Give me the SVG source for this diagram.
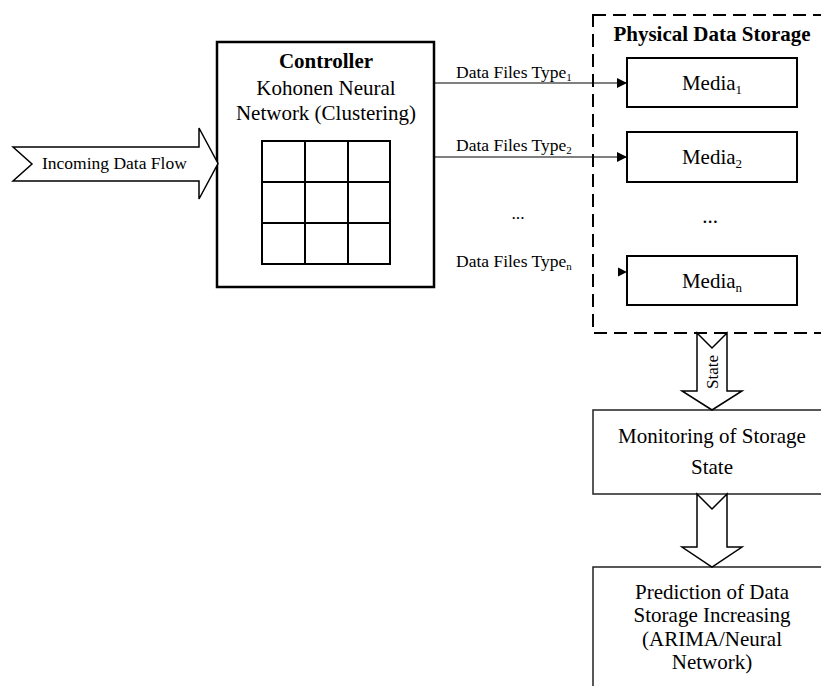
<svg xmlns="http://www.w3.org/2000/svg" width="821" height="686" viewBox="0 0 821 686">
  <style>
    text { font-family: "Liberation Serif", "Times New Roman", serif; fill: #000; }
    .t21 { font-size: 21px; }
    .t17 { font-size: 17.5px; }
    .b { font-weight: bold; }
    .mid { text-anchor: middle; }
    .box { fill: #fff; stroke: #000; stroke-width: 2; }
    .thin { fill: #fff; stroke: #222; stroke-width: 1.5; }
    .fat { fill: #fff; stroke: #000; stroke-width: 1.5; stroke-linejoin: miter; }
    .grid { fill: none; stroke: #000; stroke-width: 2; }
    .link { stroke: #000; stroke-width: 1; fill: none; }
  </style>
  <defs>
    <marker id="tri" viewBox="0 0 10 10" refX="10" refY="5" markerWidth="10" markerHeight="10" markerUnits="userSpaceOnUse" orient="auto">
      <path d="M0,0 L10,5 L0,10 Z" fill="#000"/>
    </marker>
  </defs>

  <rect width="821" height="686" fill="#fff"/>

  <!-- storage container (dashed), runs off the right edge -->
  <g id="storage">
    <rect x="593" y="15" width="238" height="318" fill="none" stroke="#000" stroke-width="2" stroke-dasharray="13 7"/>
    <text class="t21 b mid" x="712" y="41">Physical Data Storage</text>
  </g>

  <g id="media1">
    <rect class="box" x="627" y="58" width="170" height="49"/>
    <text class="t21 mid" x="712" y="90">Media<tspan font-size="13" dy="4">1</tspan></text>
  </g>
  <g id="media2">
    <rect class="box" x="627" y="132" width="170" height="50"/>
    <text class="t21 mid" x="712" y="164">Media<tspan font-size="13" dy="4">2</tspan></text>
  </g>
  <text class="t21 mid" x="710" y="223">...</text>
  <g id="median">
    <rect class="box" x="627" y="256" width="170" height="49"/>
    <text class="t21 mid" x="712" y="288">Media<tspan font-size="13" dy="4">n</tspan></text>
  </g>

  <!-- controller with Kohonen map -->
  <g id="controller">
    <rect x="217" y="42" width="217" height="245" fill="#fff" stroke="#000" stroke-width="2.5"/>
    <text class="t21 b mid" x="326" y="68">Controller</text>
    <text class="t21 mid" x="326" y="95">Kohonen Neural</text>
    <text class="t21 mid" x="326" y="120">Network (Clustering)</text>
    <rect class="grid" x="262" y="141" width="128" height="123"/>
    <path class="grid" d="M305,141 V264 M348,141 V264 M262,182 H390 M262,223 H390"/>
  </g>

  <g id="monitoring">
    <rect class="thin" x="593" y="410" width="238" height="84"/>
    <text class="t21 mid" x="712" y="443">Monitoring of Storage</text>
    <text class="t21 mid" x="712" y="474">State</text>
  </g>

  <g id="prediction">
    <rect class="thin" x="593" y="567" width="238" height="130"/>
    <text class="t21 mid" x="712" y="599">Prediction of Data</text>
    <text class="t21 mid" x="712" y="622">Storage Increasing</text>
    <text class="t21 mid" x="712" y="646">(ARIMA/Neural</text>
    <text class="t21 mid" x="712" y="669">Network)</text>
  </g>

  <g id="connectors">
    <!-- incoming flow -->
    <polygon class="fat" points="13,147 199,147 199,128 218,163.5 199,199 199,181 13,181 32,164"/>
    <text class="t17" x="42" y="169">Incoming Data Flow</text>

    <!-- data file routes -->
    <line class="link" x1="434" y1="83" x2="627" y2="83" marker-end="url(#tri)"/>
    <text class="t17" x="456" y="78">Data Files Type<tspan font-size="11" dy="3">1</tspan></text>
    <line class="link" x1="434" y1="157" x2="627" y2="157" marker-end="url(#tri)"/>
    <text class="t17" x="456" y="151">Data Files Type<tspan font-size="11" dy="3">2</tspan></text>
    <text class="t17" x="518" y="219" text-anchor="middle">...</text>
    <text class="t17" x="456" y="267">Data Files Type<tspan font-size="11" dy="3">n</tspan></text>
    <path d="M618,267.5 L627,272 L618,276.5 Z" fill="#000"/>

    <!-- state flow -->
    <polygon class="fat" points="697,333 712,348 727,333 727,391 742,391 712,410 682,391 697,391"/>
    <text font-size="17" text-anchor="middle" transform="translate(718,372) rotate(-90)">State</text>

    <!-- monitoring to prediction -->
    <polygon class="fat" points="697,494 712,509 727,494 727,547 742,547 712,567 682,547 697,547"/>
  </g>
</svg>
